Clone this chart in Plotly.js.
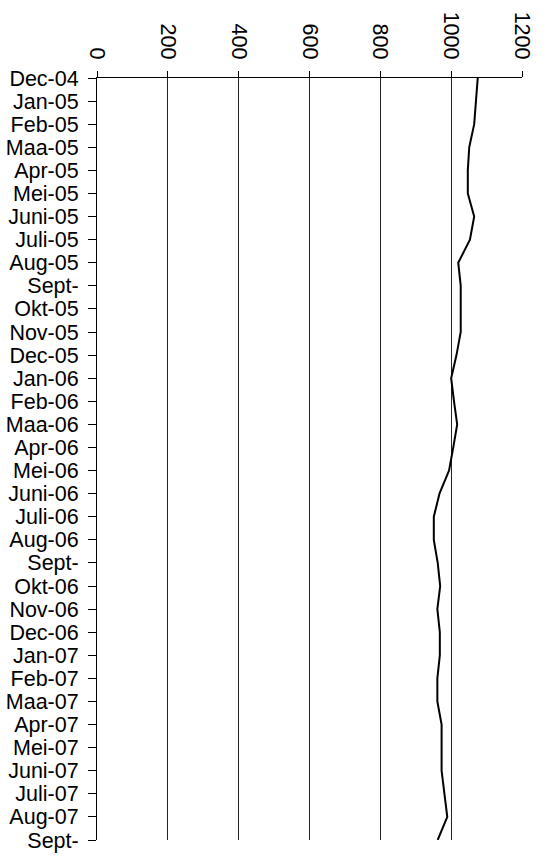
<!DOCTYPE html>
<html>
<head>
<meta charset="utf-8">
<script src="https://cdn.plot.ly/plotly-3.0.1.min.js"></script>
<style>html,body{margin:0;padding:0;background:#fff;}#chart{width:546px;height:856px;}</style>
</head>
<body>
<div id="chart"></div>
<script>
var categories = ["Dec-04","Jan-05","Feb-05","Maa-05","Apr-05","Mei-05","Juni-05","Juli-05","Aug-05","Sept-05","Okt-05","Nov-05",
  "Dec-05","Jan-06","Feb-06","Maa-06","Apr-06","Mei-06","Juni-06","Juli-06","Aug-06","Sept-06","Okt-06","Nov-06",
  "Dec-06","Jan-07","Feb-07","Maa-07","Apr-07","Mei-07","Juni-07","Juli-07","Aug-07","Sept-07"];
var tickLabels = ["Dec-04","Jan-05","Feb-05","Maa-05","Apr-05","Mei-05","Juni-05","Juli-05","Aug-05","Sept-","Okt-05","Nov-05",
  "Dec-05","Jan-06","Feb-06","Maa-06","Apr-06","Mei-06","Juni-06","Juli-06","Aug-06","Sept-","Okt-06","Nov-06",
  "Dec-06","Jan-07","Feb-07","Maa-07","Apr-07","Mei-07","Juni-07","Juli-07","Aug-07","Sept-"];
var values = [1075,1070,1065,1051,1047,1047,1065,1053,1020,1027,1027,1027,
  1015,1000,1008,1017,1006,994,967,951,951,962,969,961,
  968,968,961,961,973,973,973,981,989,962];
var xTicks = [0,200,400,600,800,1000,1200];

var font = {family: "Liberation Sans, Arial, Helvetica, sans-serif", size: 21.5, color: "#000"};

var trace = {
  type: "scatter", mode: "lines",
  x: values, y: categories,
  line: {color: "#000", width: 2},
  hoverinfo: "skip"
};

var layout = {
  width: 546, height: 856,
  margin: {l: 97, r: 24, t: 78, b: 16, pad: 0},
  paper_bgcolor: "#fff", plot_bgcolor: "#fff",
  showlegend: false,
  font: font,
  xaxis: {
    side: "top", range: [0, 1200], tickvals: xTicks, ticktext: xTicks.map(String),
    tickangle: 90, ticks: "outside", ticklen: 6, tickcolor: "#000", tickwidth: 1,
    showline: true, linecolor: "#000", linewidth: 1,
    showgrid: true, gridcolor: "#222", gridwidth: 1, zeroline: false,
    tickfont: font, ticklabelstandoff: 4, fixedrange: true
  },
  yaxis: {
    type: "category", categoryorder: "array", categoryarray: categories,
    range: [categories.length - 1, 0], autorange: false,
    tickvals: categories, ticktext: tickLabels,
    ticks: "outside", ticklen: 8, tickcolor: "#000", tickwidth: 1,
    showline: true, linecolor: "#000", linewidth: 1,
    showgrid: false, zeroline: false,
    tickfont: font, ticklabelstandoff: 5, fixedrange: true
  }
};

Plotly.newPlot("chart", [trace], layout, {staticPlot: true, displayModeBar: false});
</script>
</body>
</html>
